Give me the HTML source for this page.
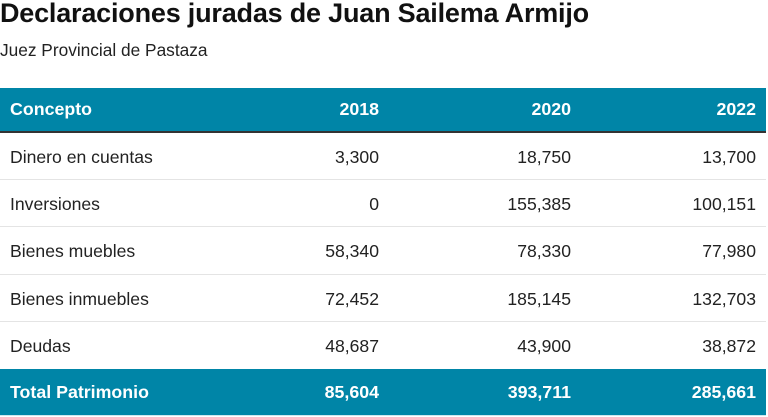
<!DOCTYPE html>
<html><head><meta charset="utf-8"><style>
*{margin:0;padding:0;box-sizing:border-box}
body{width:768px;height:417px;background:#fff;font-family:"Liberation Sans",Arial,sans-serif;color:#222;position:relative;overflow:hidden}
.title{position:absolute;left:0;top:-2px;font-size:27px;font-weight:bold;letter-spacing:-0.2px;color:#111;white-space:nowrap}
.sub{position:absolute;left:0;top:40px;font-size:17.3px;color:#222;white-space:nowrap}
.row{position:absolute;left:0;width:766px;display:flex;align-items:center;font-size:17.6px}
.row div{white-space:nowrap}
.c1{width:200px;padding-left:10px}
.c2{width:189px;text-align:right;padding-right:10px}
.c3{width:192px;text-align:right;padding-right:10px}
.c4{width:185px;text-align:right;padding-right:10px}
.bd div{padding-top:2px}
.hd{top:88px;background:#0085a7;color:#fff;font-weight:bold;font-size:17.8px;border-bottom:2px solid #333;height:45px}
.bd{height:47px;border-bottom:1px solid #e4e4e4}
.tot{top:369px;height:47px;background:#0085a7;color:#fff;font-weight:bold;font-size:17.8px;border-bottom:1px solid #cfe6ee}
</style></head><body>
<div class="title">Declaraciones juradas de Juan Sailema Armijo</div>
<div class="sub">Juez Provincial de Pastaza</div>
<div class="row hd"><div class="c1">Concepto</div><div class="c2">2018</div><div class="c3">2020</div><div class="c4">2022</div></div>
<div class="row bd" style="top:133px"><div class="c1">Dinero en cuentas</div><div class="c2">3,300</div><div class="c3">18,750</div><div class="c4">13,700</div></div>
<div class="row bd" style="top:180px"><div class="c1">Inversiones</div><div class="c2">0</div><div class="c3">155,385</div><div class="c4">100,151</div></div>
<div class="row bd" style="top:227px;height:48px"><div class="c1">Bienes muebles</div><div class="c2">58,340</div><div class="c3">78,330</div><div class="c4">77,980</div></div>
<div class="row bd" style="top:275px"><div class="c1">Bienes inmuebles</div><div class="c2">72,452</div><div class="c3">185,145</div><div class="c4">132,703</div></div>
<div class="row bd" style="top:322px;border-bottom:none"><div class="c1">Deudas</div><div class="c2">48,687</div><div class="c3">43,900</div><div class="c4">38,872</div></div>
<div class="row tot"><div class="c1">Total Patrimonio</div><div class="c2">85,604</div><div class="c3">393,711</div><div class="c4">285,661</div></div>
</body></html>
